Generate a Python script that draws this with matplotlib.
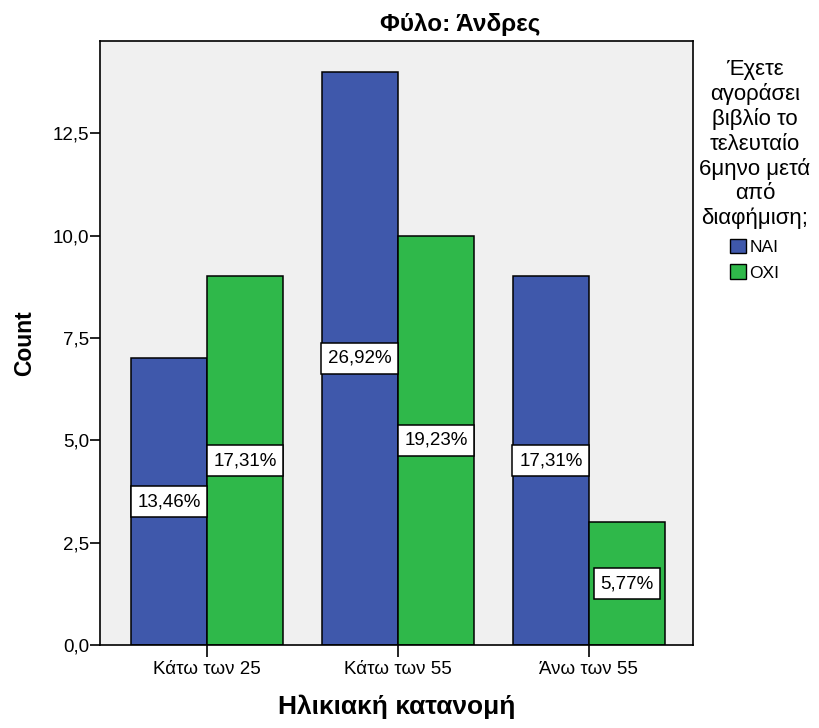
import numpy as np
import matplotlib
matplotlib.use("Agg")
import matplotlib.pyplot as plt
from matplotlib.patches import Patch
from matplotlib.ticker import FuncFormatter

plt.rcParams["font.family"] = ["Liberation Sans", "DejaVu Sans"]

# Counts per age group
age_groups = ["Κάτω των 25", "Κάτω των 55", "Άνω των 55"]
yes_counts = [7, 14, 9]
no_counts = [9, 10, 3]
series_names = ["ΝΑΙ", "ΟΧΙ"]

blue = "#3F58AB"
green = "#2FB84A"

total = sum(yes_counts) + sum(no_counts)

fig = plt.figure(figsize=(8.2, 7.28), dpi=100)
ax = fig.add_axes([100 / 820, 1 - 645 / 728, 593 / 820, 604 / 728])
ax.set_facecolor("#F0F0F0")

x = np.arange(len(age_groups))
w = 0.398
bars_yes = ax.bar(x - w, yes_counts, w, align="edge", color=blue,
                  edgecolor="black", linewidth=1.1, zorder=2)
bars_no = ax.bar(x, no_counts, w, align="edge", color=green,
                 edgecolor="black", linewidth=1.1, zorder=2)

# percentage of total in the middle of each bar
for bars, vals in [(bars_yes, yes_counts), (bars_no, no_counts)]:
    for b, v in zip(bars, vals):
        pct = f"{100 * v / total:.2f}%".replace(".", ",")
        ax.text(b.get_x() + b.get_width() / 2, v / 2, pct,
                ha="center", va="center", fontsize=13.5, zorder=3,
                bbox=dict(boxstyle="square,pad=0.36", fc="white",
                          ec="black", lw=1.1))

ax.set_xlim(-0.56, 2.545)
ax.set_ylim(0, 14.75)
ax.set_yticks(np.arange(0, 12.6, 2.5))
ax.yaxis.set_major_formatter(FuncFormatter(lambda v, p: f"{v:.1f}".replace(".", ",")))
ax.set_xticks(x)
ax.set_xticklabels(age_groups)
ax.tick_params(axis="both", labelsize=13.5, width=1.2, color="black")
ax.tick_params(axis="y", length=7, pad=1)
ax.tick_params(axis="x", length=8.5, pad=3)
for s in ax.spines.values():
    s.set_linewidth(1.2)

ax.set_ylabel("Count", fontsize=16.5, fontweight="bold", labelpad=12)
ax.set_xlabel("Ηλικιακή κατανομή", fontsize=19, fontweight="bold", labelpad=12)
fig.text(460 / 820, 1 - 25 / 728, "Φύλο: Άνδρες", ha="center", va="center",
         fontsize=17.5, fontweight="bold")

handles = [Patch(facecolor=blue, edgecolor="black", lw=1.0),
           Patch(facecolor=green, edgecolor="black", lw=1.0)]
leg = fig.legend(handles, series_names,
                 title="Έχετε\nαγοράσει\nβιβλίο το\nτελευταίο\n6μηνο μετά\nαπό\nδιαφήμιση;",
                 loc="upper center", bbox_to_anchor=(755 / 820, 1 - 50 / 728),
                 frameon=False, fontsize=12.5, title_fontsize=16,
                 alignment="center", handlelength=0.9, handleheight=0.9,
                 handletextpad=0.2, labelspacing=0.55, borderpad=0)
leg.get_title().set_multialignment("center")
leg.get_title().set_linespacing(1.2)

fig.savefig("out.png", dpi=100)
